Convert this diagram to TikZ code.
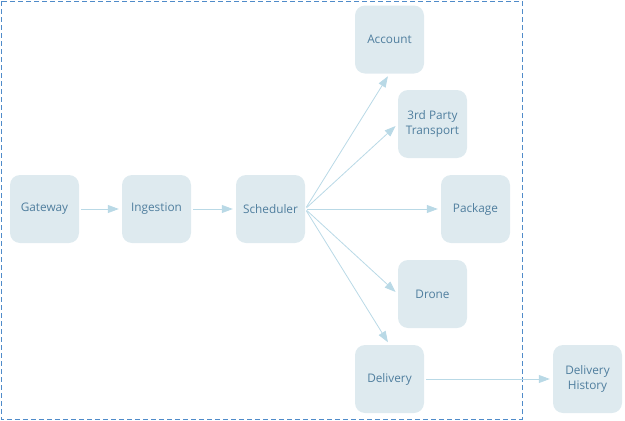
\documentclass[tikz,border=0pt]{standalone}
\usepackage{fontspec}
\setmainfont{Open Sans}
\usetikzlibrary{arrows.meta}
\definecolor{boxfill}{HTML}{DEEAEF}
\definecolor{boxtext}{HTML}{4F7E9E}
\definecolor{arr}{HTML}{B9D9E6}
\definecolor{borderblue}{HTML}{4F8BC9}
\begin{document}
\begin{tikzpicture}[x=1pt,y=-1pt,
  svc/.style={fill=boxfill,draw=none,rounded corners=10pt,minimum width=69pt,minimum height=68pt,
    text=boxtext,font=\fontsize{11.8}{15}\selectfont,align=center,inner sep=0pt},
  conn/.style={draw=arr,line width=0.8pt,-{Triangle[length=11pt,width=8pt]},shorten >=3pt,shorten <=2pt}]
\useasboundingbox (0,0) rectangle (625,421);
\draw[draw=borderblue,line width=0.9pt,dash pattern=on 5pt off 3pt] (1,1) rectangle (522,419);
\node[svc] (gw) at (44.5,209) {Gateway};
\node[svc] (ing) at (156.5,209) {Ingestion};
\node[svc] (sch) at (270.5,209) {Scheduler};
\node[svc] (acc) at (389.5,39.5) {Account};
\node[svc] (tp) at (432.5,124) {3rd Party\\Transport};
\node[svc] (pkg) at (475.5,209) {Package};
\node[svc] (dr) at (432.5,294) {Drone};
\node[svc] (del) at (389.5,379) {Delivery};
\node[svc] (dh) at (587.5,379) {Delivery\\History};
\draw[conn] (gw) -- (ing);
\draw[conn] (ing) -- (sch);
\draw[conn] (sch.east) -- (acc.south);
\draw[conn] (sch.east) -- (tp.west);
\draw[conn] (sch.east) -- (pkg.west);
\draw[conn] (sch.east) -- (dr.west);
\draw[conn] (sch.east) -- (del.north);
\draw[conn] (del) -- (dh);
\end{tikzpicture}
\end{document}
